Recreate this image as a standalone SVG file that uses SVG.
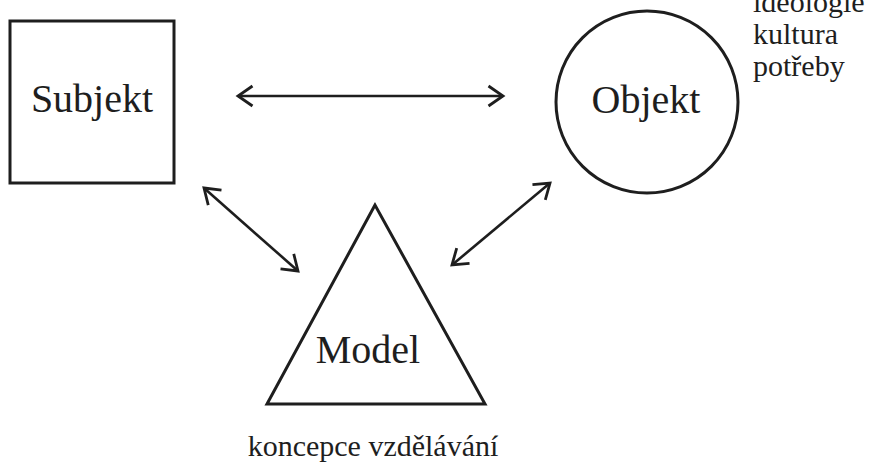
<svg xmlns="http://www.w3.org/2000/svg" width="870" height="462" viewBox="0 0 870 462">
<style>
.shape{fill:none;stroke:#1e1e1e;stroke-width:3}
.lbl{font-family:'Liberation Serif','Tinos','DejaVu Serif','Noto Serif','Times New Roman',serif;fill:#1e1e1e}
.big{font-size:40px}
.small{font-size:30px}
.conn line{stroke:#1e1e1e;stroke-width:2.6;marker-start:url(#ah);marker-end:url(#ah)}
</style>
<defs>
<marker id="ah" markerUnits="userSpaceOnUse" markerWidth="20" markerHeight="24" viewBox="0 0 20 24" refX="16" refY="12" orient="auto-start-reverse">
<path d="M1.5,2 L16,12 L1.5,22" fill="none" stroke="#1e1e1e" stroke-width="2.8" stroke-linejoin="miter"/>
</marker>
</defs>
<rect width="870" height="462" fill="#fff"/>
<g id="subjekt">
<rect class="shape" x="10" y="21" width="164" height="162"/>
<text class="lbl big" x="92" y="112" text-anchor="middle" font-family="Liberation Serif, DejaVu Serif, serif">Subjekt</text>
</g>
<g id="objekt">
<circle class="shape" cx="647" cy="102" r="91"/>
<text class="lbl big" x="646" y="113" text-anchor="middle" font-family="Liberation Serif, DejaVu Serif, serif">Objekt</text>
<text class="lbl small" x="753" y="12" font-family="Liberation Serif, DejaVu Serif, serif">ideologie</text>
<text class="lbl small" x="753" y="44" font-family="Liberation Serif, DejaVu Serif, serif">kultura</text>
<text class="lbl small" x="753" y="76" font-family="Liberation Serif, DejaVu Serif, serif">potřeby</text>
</g>
<g id="model">
<polygon class="shape" points="375,205 267,404 485,404"/>
<text class="lbl big" x="368" y="363" text-anchor="middle" font-family="Liberation Serif, DejaVu Serif, serif">Model</text>
<text class="lbl small" x="373" y="456" text-anchor="middle" font-family="Liberation Serif, DejaVu Serif, serif">koncepce vzdělávání</text>
</g>
<g class="conn" id="connectors">
<line x1="238" y1="96" x2="503" y2="96"/>
<line x1="204" y1="188" x2="298" y2="271"/>
<line x1="550" y1="183" x2="452" y2="265"/>
</g>
</svg>
